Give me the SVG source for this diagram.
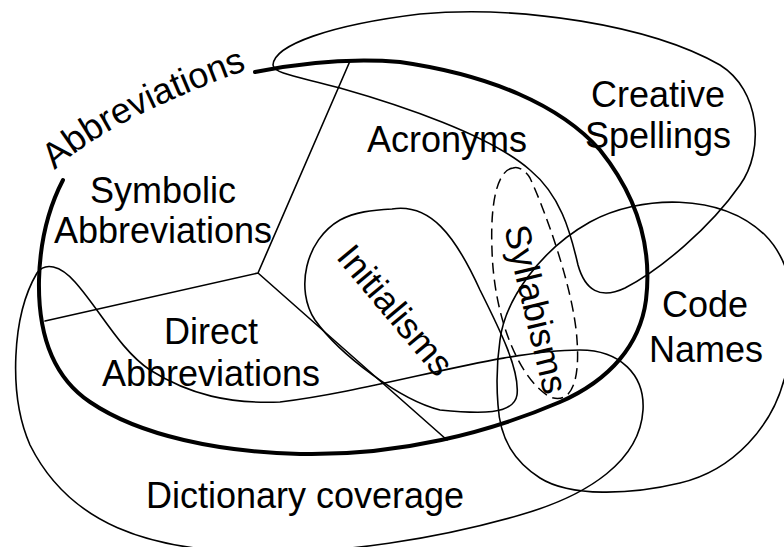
<svg xmlns="http://www.w3.org/2000/svg" width="784" height="547" viewBox="0 0 784 547">
<defs>
<style>
.thin{fill:none;stroke:#000;stroke-width:1.6;stroke-linejoin:round;stroke-linecap:round}
.thick{fill:none;stroke:#000;stroke-width:4;stroke-linecap:round}
.dash{fill:none;stroke:#000;stroke-width:1.5;stroke-dasharray:11 6}
.lbl{font-family:"Liberation Sans",Arial,Helvetica,sans-serif;font-size:36px;fill:#000;text-anchor:middle}
</style>
<path id="abbrArc" d="M 55,170 Q 107,120 252,68"/>
</defs>
<rect width="784" height="547" fill="#fff"/>
<g id="abbreviations">
<path class="thick" d="M 63,180 C 50,205 40,240 39,280 C 38,330 50,375 90,402 C 140,436 220,452 300,454 C 400,456 490,432 560,402 C 610,380 640,345 646,300 C 652,250 640,200 600,150 C 560,105 490,75 400,62 C 340,57 290,65 255,72"/>
<text class="lbl" style="text-anchor:start"><textPath href="#abbrArc">Abbreviations</textPath></text>
</g>
<g id="creative-spellings">
<path class="thin" d="M 273,65 C 274,45 330,25 420,14 C 520,5 650,25 720,65 C 760,90 765,150 740,185 C 710,228 660,270 625,288 C 600,300 585,290 578,265 C 570,230 560,195 530,170 C 490,135 400,105 340,88 C 300,77 274,74 273,65 Z"/>
<text class="lbl" x="658" y="107">Creative</text>
<text class="lbl" x="658" y="148">Spellings</text>
</g>
<g id="code-names">
<path class="thin" d="M 500,340 C 505,300 540,250 590,222 C 640,195 720,192 765,235 C 800,270 800,340 784,380 C 772,425 735,470 680,483 C 630,495 570,497 540,478 C 515,462 500,440 498,405 C 496,380 497,360 500,340 Z"/>
<text class="lbl" x="705" y="317">Code</text>
<text class="lbl" x="706" y="362">Names</text>
</g>
<g id="dictionary-coverage">
<path class="thin" d="M 37,273 C 45,262 60,265 75,282 C 100,310 120,350 150,370 C 190,395 230,404 280,402 C 380,390 500,350 580,350 C 620,350 645,375 643,410 C 640,460 590,495 520,515 C 440,538 340,555 250,552 C 150,550 70,525 30,445 C 8,395 12,315 37,273 Z"/>
<text class="lbl" x="305" y="508">Dictionary coverage</text>
</g>
<g id="initialisms">
<path class="thin" d="M 392,209 C 430,203 455,235 480,290 C 500,330 520,370 517,395 C 514,415 480,414 440,410 C 400,400 340,355 315,320 C 295,290 305,240 340,220 C 355,212 372,210 392,209 Z"/>
<text class="lbl" transform="translate(386,318) rotate(50)">Initialisms</text>
</g>
<g id="syllabisms">
<path class="dash" d="M 513,168 C 498,170 490,200 492,250 C 494,320 520,380 550,397 C 572,405 580,380 577,340 C 574,290 545,210 530,178 C 525,170 518,166 513,168 Z"/>
<text class="lbl" transform="translate(524,312) rotate(76.5)">Syllabisms</text>
</g>
<g id="symbolic-abbreviations">
<text class="lbl" x="163" y="203">Symbolic</text>
<text class="lbl" x="163" y="243">Abbreviations</text>
</g>
<g id="acronyms">
<text class="lbl" x="447" y="152">Acronyms</text>
</g>
<g id="direct-abbreviations">
<text class="lbl" x="211" y="344">Direct</text>
<text class="lbl" x="211" y="386">Abbreviations</text>
</g>
<g id="connectors">
<path class="thin" d="M 350,61 L 258,273 L 45,321 M 258,273 L 447,440"/>
</g>
</svg>
